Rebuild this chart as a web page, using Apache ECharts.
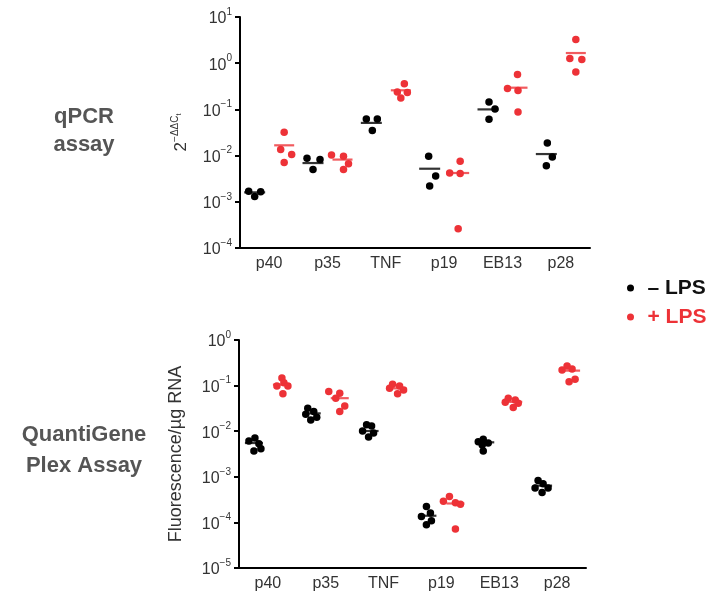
<!DOCTYPE html>
<html><head><meta charset="utf-8">
<script src="https://cdn.jsdelivr.net/npm/echarts@6/dist/echarts.min.js"></script>
<style>html,body{margin:0;padding:0;background:#fff}#c{width:723px;height:594px}</style>
</head><body><div id="c"></div>
<script>
const categories = ['p40', 'p35', 'TNF', 'p19', 'EB13', 'p28'];

// qPCR assay (2^-ΔΔCt), - LPS
const qpcrNeg = [
  [0.0017, 0.0013, 0.00165],
  [0.0088, 0.0082, 0.0050],
  [0.062, 0.062, 0.035],
  [0.0097, 0.0036, 0.0022],
  [0.144, 0.102, 0.061],
  [0.0187, 0.0093, 0.0060]
];
const qpcrNegMed = [0.0016, 0.0069, 0.051, 0.0052, 0.10, 0.0108];
// qPCR assay, + LPS
const qpcrPos = [
  [0.032, 0.0135, 0.0105, 0.0071],
  [0.0103, 0.0097, 0.0067, 0.0050],
  [0.36, 0.238, 0.231, 0.177],
  [0.0075, 0.0042, 0.0041, 0.00026],
  [0.566, 0.282, 0.255, 0.088],
  [3.24, 1.26, 1.2, 0.645]
];
const qpcrPosMed = [0.0167, 0.0082, 0.259, 0.0042, 0.295, 1.66];

// QuantiGene Plex Assay (Fluorescence/µg RNA), - LPS
const qgNeg = [
  [0.0071, 0.0061, 0.0053, 0.0041, 0.0037],
  [0.0319, 0.0269, 0.0236, 0.0203, 0.0177],
  [0.0138, 0.0130, 0.0101, 0.0091, 0.0075],
  [0.000224, 0.00016, 0.000135, 0.000109, 0.000089],
  [0.0067, 0.0059, 0.0055, 0.0050, 0.0037],
  [0.00083, 0.00070, 0.00057, 0.00057, 0.00045]
];
const qgNegMed = [0.0055, 0.0246, 0.0101, 0.00014, 0.0057, 0.00064];
// QuantiGene Plex Assay, + LPS
const qgPos = [
  [0.147, 0.115, 0.098, 0.098, 0.066],
  [0.0738, 0.068, 0.0529, 0.0359, 0.0269],
  [0.107, 0.098, 0.087, 0.080, 0.066],
  [0.00037, 0.00029, 0.00027, 0.00025, 0.000072],
  [0.0529, 0.0486, 0.0432, 0.041, 0.033],
  [0.27, 0.232, 0.22, 0.138, 0.122]
];
const qgPosMed = [0.105, 0.053, 0.087, 0.00026, 0.044, 0.213];

// horizontal jitter of dots (px, style only)
const jitQN = [[-6,0,6],[-6,7,0],[-5,6,1],[-1,6,0],[1,7,1],[1,6,0]];
const jitQP = [[0,-3.5,7.5,0],[-11,1,6,1],[3.5,-3.5,6.5,0],[1,-9.5,1,-1],[0,-10,0.5,0.5],[0,-6,6,0]];
const jitGN = [[1,-5,5,7,0],[-4,2,-6,5,-1],[-3,2,-7,4,-1],[-1,3,-6,4,-1],[-2,-7,3,-3,-2],[-5,0,-8,5,-1]];
const jitGP = [[0,2,-5,6,1],[-11,0,-4,5,0],[-5,2,-8,6,0],[-6,-12,0,5,0],[-5,2,-8,5,0],[-4,1,-9,4,-2]];

const BLACK = '#000000';
const RED = '#ED3237';
const FONT = '"Liberation Sans", Arial, Helvetica, sans-serif';
const NEG = '\u2013 LPS';
const POS = '+ LPS';

function dots(values, jit, off) {
  const out = [];
  values.forEach((arr, i) => arr.forEach((v, k) => {
    out.push({ value: [i, v], symbolOffset: [off + jit[i][k], 0] });
  }));
  return out;
}
function meds(values) {
  return values.map((v, i) => [i, v]);
}

function scatter(name, gi, data, color) {
  return {
    name: name, type: 'scatter', xAxisIndex: gi, yAxisIndex: gi,
    data: data, symbol: 'circle', symbolSize: 7.5,
    itemStyle: { color: color, opacity: 1 }, z: 3, silent: true
  };
}
function medLine(gi, data, color, off, w) {
  return {
    name: 'med' + gi + color, type: 'scatter', xAxisIndex: gi, yAxisIndex: gi,
    data: data, symbol: 'rect', symbolSize: [w, 2.2], symbolOffset: [off, 0],
    itemStyle: { color: color }, z: 4, silent: true
  };
}

function supLabel(v) {
  const e = Math.round(Math.log10(v));
  return '{b|10}{s|' + (e < 0 ? '\u2212' + (-e) : e) + '}';
}

function yAxis(gi, min, max, nameObj) {
  return Object.assign({
    type: 'log', logBase: 10, gridIndex: gi, min: min, max: max,
    axisLine: { show: true, lineStyle: { color: '#000', width: 2 } },
    axisTick: { show: true, length: 5, lineStyle: { color: '#000', width: 2 } },
    splitLine: { show: false },
    axisLabel: {
      margin: 8, formatter: supLabel,
      rich: {
        b: { fontSize: 16, fontFamily: FONT, color: '#333', lineHeight: 20, verticalAlign: 'bottom' },
        s: { fontSize: 10, fontFamily: FONT, color: '#333', lineHeight: 17, verticalAlign: 'top' }
      }
    }
  }, nameObj);
}
function xAxis(gi) {
  return {
    type: 'category', gridIndex: gi, data: categories, boundaryGap: true,
    axisLine: { show: true, lineStyle: { color: '#000', width: 2 } },
    axisTick: { show: false },
    axisLabel: { margin: 8, fontSize: 16, fontFamily: FONT, color: '#333' },
    splitLine: { show: false }
  };
}

const chart = echarts.init(document.getElementById('c'), null, { renderer: 'canvas' });
chart.setOption({
  animation: false,
  backgroundColor: '#fff',
  textStyle: { fontFamily: FONT },
  grid: [
    { left: 240, right: 133, top: 17, height: 231 },
    { left: 239, right: 137, top: 340, height: 228 }
  ],
  xAxis: [xAxis(0), xAxis(1)],
  yAxis: [
    yAxis(0, 1e-4, 10, {
      name: '{b|2}{s|\u2212\u0394\u0394C}{t|t}', nameLocation: 'middle', nameRotate: 90, nameGap: 50,
      nameTextStyle: {
        rich: {
          b: { fontSize: 17, fontFamily: FONT, color: '#333', lineHeight: 20, verticalAlign: 'bottom' },
          s: { fontSize: 10, fontFamily: FONT, color: '#333', lineHeight: 14, verticalAlign: 'top' },
          t: { fontSize: 7, fontFamily: FONT, color: '#333', lineHeight: 20, verticalAlign: 'top', padding: [6, 0, 0, 0] }
        }
      }
    }),
    yAxis(1, 1e-5, 1, {
      name: 'Fluorescence/\u00b5g RNA', nameLocation: 'middle', nameRotate: 90, nameGap: 54,
      nameTextStyle: { fontSize: 18, fontFamily: FONT, color: '#333' }
    })
  ],
  legend: {
    orient: 'vertical', left: 622, top: 271, itemGap: 5,
    itemWidth: 24, itemHeight: 7, icon: 'circle', symbolKeepAspect: true,
    selectedMode: false,
    textStyle: { fontSize: 21, fontWeight: 'bold', fontFamily: FONT, lineHeight: 24 },
    data: [
      { name: NEG, textStyle: { color: '#111' } },
      { name: POS, textStyle: { color: RED } }
    ]
  },
  graphic: [
    { type: 'text', x: 84, y: 103, style: { text: 'qPCR\nassay', align: 'center', verticalAlign: 'top', fontSize: 22, fontWeight: 'bold', fontFamily: FONT, fill: '#555', lineHeight: 28 } },
    { type: 'text', x: 84, y: 419, style: { text: 'QuantiGene\nPlex Assay', align: 'center', verticalAlign: 'top', fontSize: 22, fontWeight: 'bold', fontFamily: FONT, fill: '#555', lineHeight: 31 } }
  ],
  series: [
    scatter(NEG, 0, dots(qpcrNeg, jitQN, -14.5), BLACK),
    scatter(POS, 0, dots(qpcrPos, jitQP, 15), RED),
    medLine(0, meds(qpcrNegMed), BLACK, -14.5, 21),
    medLine(0, meds(qpcrPosMed), RED, 15, 20),
    scatter(NEG, 1, dots(qgNeg, jitGN, -14), BLACK),
    scatter(POS, 1, dots(qgPos, jitGP, 14), RED),
    medLine(1, meds(qgNegMed), BLACK, -14, 18),
    medLine(1, meds(qgPosMed), RED, 14, 18)
  ]
});
</script>
</body></html>
